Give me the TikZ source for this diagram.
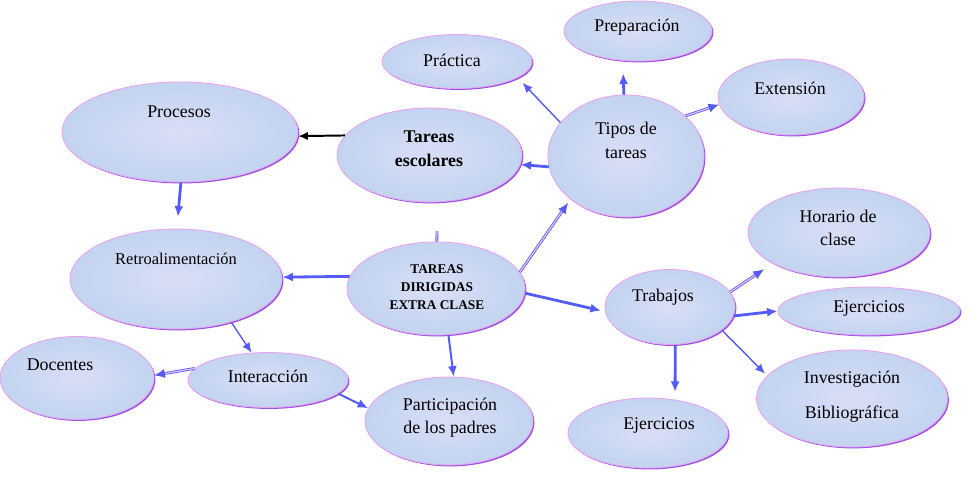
\documentclass[tikz,border=0pt]{standalone}
\usepackage{fontspec}
\setmainfont{Liberation Serif}
\usepackage{xcolor}
\definecolor{bubfill}{RGB}{194,212,240}
\definecolor{bubin}{RGB}{218,222,246}
\definecolor{bubedge}{RGB}{236,160,240}
\definecolor{bubshade}{RGB}{150,80,228}
\definecolor{arrblue}{RGB}{84,92,245}
\definecolor{arrpink}{RGB}{242,196,246}
\usepackage{tikz}
\usetikzlibrary{shapes.geometric, arrows.meta, shadows}

\begin{document}
\begin{tikzpicture}[x=0.025cm, y=-0.025cm,
	bubble/.style={ellipse, draw=bubedge, line width=0.6pt, inner color=bubin, outer color=bubfill,
	               drop shadow={shadow xshift=1pt, shadow yshift=-1pt, fill=bubshade, opacity=1}},
	txt/.style={align=center, inner sep=0pt, font=\fontsize{12.7}{17}\selectfont},
	arr/.style={-{Latex[length=7.5pt,width=6.5pt]}, draw=arrblue, line width=2pt},
	arrmid/.style={-{Latex[length=7.5pt,width=6.5pt]}, draw=arrblue, line width=1.4pt},
	arrfine/.style={-{Latex[length=7pt,width=6pt]}, draw=arrblue, line width=1pt},
	dbl/.style={-{Latex[length=7.5pt,width=6.5pt]}, draw=arrblue, double=arrpink, double distance=0.8pt, line width=0.6pt},
	blk/.style={-{Latex[length=7pt,width=6pt]}, draw=black, line width=1.4pt}
	]
\useasboundingbox (0,0) rectangle (975,476);

% Burbujas
\node[bubble, minimum width=5.9cm,   minimum height=2.5cm]   (proc)  at (180,132)   {};
\node[bubble, minimum width=4.625cm, minimum height=2.35cm]  (tesc)  at (429.5,155) {};
\node[bubble, minimum width=3.9cm,   minimum height=3.05cm]  (tipos) at (626,156)   {};
\node[bubble, minimum width=3.75cm,  minimum height=1.35cm]  (prac)  at (457,61.5)  {};
\node[bubble, minimum width=3.7cm,   minimum height=1.5cm]   (prep)  at (638,31)    {};
\node[bubble, minimum width=3.65cm,  minimum height=1.9cm]   (ext)   at (791,97)    {};
\node[bubble, minimum width=5.3cm,   minimum height=2.5cm]   (retro) at (176,279)   {};
\node[bubble, minimum width=4.45cm,  minimum height=2.325cm] (tdec)  at (436,288.5) {};
\node[bubble, minimum width=3.85cm,  minimum height=2.075cm] (doc)   at (77,378)    {};
\node[bubble, minimum width=4.0cm,   minimum height=1.375cm] (inter) at (268,380)   {};
\node[bubble, minimum width=4.2cm,   minimum height=2.2cm]   (part)  at (449,421)   {};
\node[bubble, minimum width=3.25cm,  minimum height=1.875cm] (trab)  at (670,307)   {};
\node[bubble, minimum width=4.55cm,  minimum height=2.225cm] (hor)   at (839,232.5) {};
\node[bubble, minimum width=4.55cm,  minimum height=1.2cm]   (ejd)   at (869,311)   {};
\node[bubble, minimum width=4.775cm, minimum height=2.425cm] (inv)   at (852,398.5) {};
\node[bubble, minimum width=4.0cm,   minimum height=1.75cm]  (eji)   at (648,433)   {};

% Textos
\node[txt] (proc-t)  at (179,112) {Procesos};
\node[txt, font=\fontsize{12.7}{17}\selectfont\bfseries] (tesc-t) at (429,149) {Tareas\\escolares};
\node[txt] (tipos-t) at (626,140) {Tipos de\\tareas};
\node[txt] (prac-t)  at (452,60)  {Práctica};
\node[txt] (prep-t)  at (637,27)  {Preparación};
\node[txt] (ext-t)   at (790,88)  {Extensión};
\node[txt, font=\fontsize{11.7}{14}\selectfont] (retro-t) at (176,259) {Retroalimentación};
\node[txt, font=\fontsize{9.5}{13}\selectfont\bfseries] (tdec-t) at (437,287) {TAREAS\\DIRIGIDAS\\EXTRA CLASE};
\node[txt] (doc-t)   at (60,365)  {Docentes};
\node[txt] (inter-t) at (268,376) {Interacción};
\node[txt, font=\fontsize{12.7}{16.5}\selectfont] (part-t) at (450,418) {Participación\\de los padres};
\node[txt] (trab-t)  at (663,297) {Trabajos};
\node[txt, font=\fontsize{12.7}{16.5}\selectfont] (hor-t) at (838,228) {Horario de\\clase};
\node[txt] (ejd-t)   at (869,308) {Ejercicios};
\node[txt, font=\fontsize{12.7}{25}\selectfont] (inv-t) at (852,397) {Investigación\\Bibliográfica};
\node[txt] (eji-t)   at (659,425) {Ejercicios};

% Conectores
\coordinate (stub) at (437,231);
\draw[dbl, -] (stub) -- (tdec.89);
\draw[blk] (tesc.167) -- (proc.-2);
\draw[arr] (tipos.188) -- (tesc.-6);
\draw[arrfine, shorten >=5pt] (tipos.153) -- (prac.-15);
\draw[arr, shorten >=9pt] (tipos.92) -- (prep.243);
\draw[dbl] (tipos.34) -- (ext.186);
\draw[dbl, shorten >=3pt] (tdec.11) -- (tipos.218);
\draw[arr, shorten >=3pt] (tdec.-3) -- (trab.184);
\draw[arr] (tdec.172) -- (retro.1);
\draw[arrmid] (tdec.-75) -- (part.84);
\draw[arr, shorten >=8.5pt] (proc.-89) -- (retro.89);
\draw[arrfine] (retro.-38) -- (inter.121);
\draw[dbl] (inter.171) -- (doc.2);
\draw[arrmid] (inter.-11) -- (part.171);
\draw[dbl, shorten >=7.5pt] (trab.14) -- (hor.205);
\draw[arr] (trab.-8) -- (ejd.180);
\draw[arrfine, shorten >=2pt] (trab.-24) -- (inv.165);
\draw[arr, shorten >=5.5pt] (trab.-82) -- (eji.51);

\end{tikzpicture}
\end{document}
